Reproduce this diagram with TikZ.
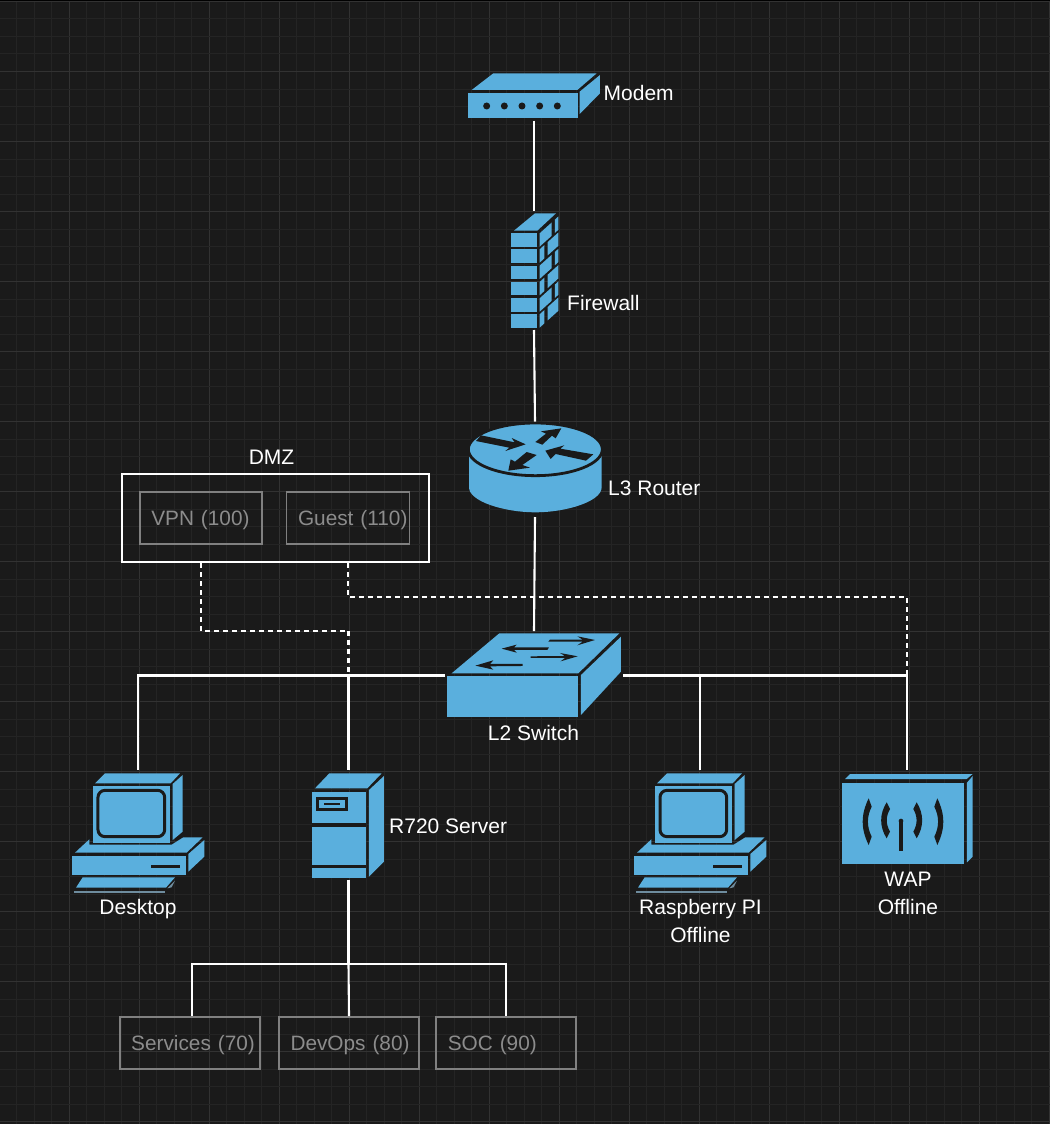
\documentclass[tikz,border=0pt]{standalone}
\usepackage{xcolor}
\usepackage{fontspec}
\setmainfont{Liberation Sans}
\usepackage{tikz}
\usetikzlibrary{positioning}
\definecolor{Fondo}     {RGB}{26, 26, 26}
\definecolor{RejillaA}  {RGB}{36, 36, 36}
\definecolor{RejillaB}  {RGB}{50, 50, 50}
\definecolor{Celeste}   {RGB}{90, 175, 221}
\definecolor{CelesteOsc}{RGB}{110,140,158}
\definecolor{GrisBorde} {RGB}{128,128,128}
\definecolor{GrisTexto} {RGB}{140,140,140}
\definecolor{BlancoLine}{RGB}{255,255,255}
\tikzset{
  iconbox/.style={inner sep=0pt,outer sep=0pt,minimum width=#1},
  iconbox/.default=50pt,
  face/.style={fill=Celeste},
  ink/.style={fill=Fondo},
  tag/.style={text=white,inner sep=0pt,text height=15pt,text depth=0pt,align=center},
  vlanbox/.style={draw=GrisBorde,line width=1.8pt,text=GrisTexto,font=\fontsize{20.8}{28}\selectfont,inner xsep=11.5pt,inner ysep=0pt,minimum height=52pt,text height=15pt,text depth=0pt,text width=#1-23pt,align=left,minimum width=#1},
  cable/.style={draw=BlancoLine,line width=2.1pt},
  vlancable/.style={draw=BlancoLine,line width=2.1pt,dash pattern=on 5pt off 4pt},
  computer/.pic={
    \begin{scope}[x=0.3333pt,y=-0.3333pt]
      \fill[face] (105,70) -- (135,40) -- (360,40) -- (332,70) -- cycle;
      \fill[face] (98,78) rectangle (330,248);
      \fill[face] (338,72) -- (368,45) -- (368,215) -- (338,240) -- cycle;
      \draw[draw=Fondo,line width=3pt,rounded corners=7pt] (114,91) rectangle (314,230);
      \fill[face] (45,278) -- (88,238) -- (88,254) -- (335,254) -- (370,232) -- (428,232) -- (380,278) -- cycle;
      \fill[face] (35,288) rectangle (377,345);
      \fill[face] (385,282) -- (433,240) -- (433,290) -- (385,335) -- cycle;
      \fill[ink] (272,315) rectangle (360,325);
      \fill[face] (48,383) -- (68,352) -- (345,352) -- (318,383) -- cycle;
      \fill[CelesteOsc] (43,393) rectangle (315,399);
      \fill[CelesteOsc] (322,385) -- (345,362) -- (335,382) -- cycle;
    \end{scope}
  }
}
\begin{document}
\begin{tikzpicture}[x=1pt,y=-1pt,font=\fontsize{21}{28}\selectfont]
  \useasboundingbox (0,0) rectangle (1050,1124);
  \fill[Fondo] (0,0) rectangle (1050,1124);
  \foreach \gridk in {0,...,60} {
    \pgfmathtruncatemacro{\gridm}{mod(\gridk,4)}
    \ifnum\gridm=0 \def\gridc{RejillaB}\else \def\gridc{RejillaA}\fi
    \draw[\gridc,line width=1pt] ({-1+17.5*\gridk},0) -- ({-1+17.5*\gridk},1124);
  }
  \foreach \gridk in {0,...,64} {
    \pgfmathtruncatemacro{\gridm}{mod(\gridk,4)}
    \ifnum\gridm=0 \def\gridc{RejillaB}\else \def\gridc{RejillaA}\fi
    \draw[\gridc,line width=1pt] (0,{1.5+17.5*\gridk}) -- (1050,{1.5+17.5*\gridk});
  }
  \draw[black,line width=1.2pt] (0,0.6) -- (1050,0.6);
  % equipment anchors
  \node[iconbox=134pt,minimum height=47.5pt] (modem) at (534,96.75) {};
  \node[iconbox=50pt,minimum height=119pt] (firewall) at (534,270.5) {};
  \node[iconbox=134pt,minimum height=95pt] (router) at (535,469.5) {};
  \node[iconbox=178pt,minimum height=89pt] (switch) at (534,675.5) {};
  \node[iconbox=135pt,minimum height=130pt] (desktop) at (138,835) {};
  \node[iconbox=76pt,minimum height=110pt] (server) at (348.5,825) {};
  \node[iconbox=135pt,minimum height=130pt] (raspberry) at (700,835) {};
  \node[iconbox=136pt,minimum height=100pt] (wap) at (907,820) {};
  % DMZ
  \node[draw=white,line width=2pt,minimum width=306.5pt,minimum height=88pt] (dmz) at (275.5,518) {};
  \node[text=white,inner sep=0pt,text height=15pt,text depth=0pt] (dmzlabel) at (271.5,457) {DMZ};
  \node[vlanbox=122pt] (vpn) at (200.8,518) {VPN~(100)};
  \node[vlanbox=123pt] (guest) at (348,518) {Guest~(110)};
  % VLANs
  \node[vlanbox=140pt] (services) at (189.7,1043) {Services~(70)};
  \node[vlanbox=140pt] (devops) at (349,1043) {DevOps~(80)};
  \node[vlanbox=140pt] (soc) at (506.3,1043) {SOC~(90)};
  \coordinate (vlanbus) at (348.5,964);
  \coordinate (vpnbus) at (348.5,631);
  \coordinate (guestbus) at (348,597);
  % labels
  \node[tag,anchor=west] (modemlabel) at (603.5,93) {Modem};
  \node[tag,anchor=west] (firewalllabel) at (567,303) {Firewall};
  \node[tag,anchor=west] (routerlabel) at (608,488) {L3 Router};
  \node[tag] (switchlabel) at (533.5,733) {L2 Switch};
  \node[tag] (desktoplabel) at (138,907) {Desktop};
  \node[tag,anchor=west] (serverlabel) at (389,826) {R720 Server};
  \node[tag] (raspberrylabel) at (700.5,935) {Raspberry PI\\Offline};
  \node[tag] (waplabel) at (908,907) {WAP\\Offline};
  % links
  \draw[cable] (modem.south) -- (firewall.north);
  \draw[cable] (firewall.south) -- (router.north);
  \draw[cable] (router.south) -- (switch.north);
  \draw[cable] (switch.west) -| (desktop.north);
  \draw[cable] (switch.west) -| (server.north);
  \draw[cable] (switch.east) -| (raspberry.north);
  \draw[cable] (switch.east) -| (wap.north);
  \draw[cable,line width=3pt] (server.south) -- (vlanbus);
  \draw[cable] (vlanbus) -| ([xshift=2.5pt]services.north);
  \draw[cable] (vlanbus) -- (devops.north);
  \draw[cable] (vlanbus) -| (soc.north);
  \draw[vlancable] (vpn |- dmz.south) |- (vpnbus) -- (server.north);
  \draw[vlancable] (guest |- dmz.south) -- (guestbus) -| (wap.north);
  % modem and firewall
  \begin{scope}[shift={(440,50)},x=0.3333pt,y=-0.3333pt]
    \fill[face] (95,120) -- (160,70) -- (470,70) -- (412,120) -- cycle;
    \fill[face] (85,128) rectangle (413,203);
    \fill[face] (419,125) -- (480,75) -- (480,130) -- (419,192) -- cycle;
    \foreach \dotx in {140,193,246,299,352} \fill[ink] (\dotx,168) circle [radius=10.5];
    \fill[face] (222,542) -- (285,490) -- (348,490) -- (292,542) -- cycle;
    \foreach \rowtop in {550,598,647,696,745,793} \fill[face] (212,\rowtop) rectangle (290,\rowtop+40);
    \foreach \rowtop/\aa/\ab/\ba/\bb in {550/299/335/345/355,598/299/313/323/355,647/299/335/345/355,696/299/313/323/355,745/299/335/345/355,793/299/313/323/355}
      \fill[face] (\aa,\rowtop-0.9*\aa+269) -- (\ab,\rowtop-0.9*\ab+269) -- (\ab,\rowtop-0.9*\ab+309) -- (\aa,\rowtop-0.9*\aa+309) -- cycle
        (\ba,\rowtop-0.9*\ba+269) -- (\bb,\rowtop-0.9*\bb+269) -- (\bb,\rowtop-0.9*\bb+309) -- (\ba,\rowtop-0.9*\ba+309) -- cycle;
  \end{scope}
  % router and switch
  \begin{scope}[shift={(440,410)},x=0.3333pt,y=-0.3333pt]
    \fill[face] (87,120) -- (87,232) .. controls (87,275) and (195,307) .. (286,307) .. controls (377,307) and (485,275) .. (485,232) -- (485,120) -- cycle;
    \draw[draw=Fondo,fill=Celeste,line width=2.8pt] (286,118) ellipse [x radius=201,y radius=79];
    \fill[ink] (108,93) -- (123,76) -- (224,97) -- (215,84) -- (257,103) -- (196,123) -- (208,113) -- cycle;
    \fill[ink] (286,96) -- (318,71) -- (303,64) -- (364,55) -- (347,85) -- (336,77) -- (307,104) -- cycle;
    \fill[ink] (316,122) -- (373,106) -- (361,116) -- (460,133) -- (438,152) -- (347,132) -- (332,147) -- cycle;
    \fill[ink] (205,182) -- (212,148) -- (225,155) -- (260,126) -- (290,135) -- (247,165) -- (270,173) -- cycle;
    \fill[face] (35,790) -- (178,670) -- (538,670) -- (415,790) -- cycle;
    \fill[face] (22,798) rectangle (415,922);
    \fill[face] (423,795) -- (543,680) -- (543,785) -- (423,915) -- cycle;
    \fill[ink] (465,690) -- (412,706) -- (428,695) -- (325,695) -- (330,689) -- (428,689) -- (412,679) -- cycle;
    \fill[ink] (185,716) -- (230,704) -- (222,712) -- (327,712) -- (322,720) -- (222,720) -- (230,728) -- cycle;
    \fill[ink] (413,739) -- (362,754) -- (375,744) -- (272,744) -- (272,739) -- (375,738) -- (360,729) -- cycle;
    \fill[ink] (106,767) -- (160,751) -- (150,762) -- (248,762) -- (248,768) -- (150,769) -- (160,779) -- cycle;
  \end{scope}
  % desktop and raspberry
  \pic (desktopicon) at (60,760) {computer};
  \pic (raspberryicon) at (622,760) {computer};
  % server
  \begin{scope}[shift={(60,760)},x=0.3333pt,y=-0.3333pt]
    \fill[face] (765,85) -- (808,40) -- (965,40) -- (922,85) -- cycle;
    \fill[face] (757,95) rectangle (918,355);
    \fill[face] (927,90) -- (972,48) -- (972,305) -- (927,350) -- cycle;
    \fill[ink] (757,190) rectangle (918,200);
    \fill[ink] (757,315) rectangle (918,325);
    \fill[ink] (768,110) rectangle (865,153);
    \fill[face] (778,120) rectangle (855,143);
    \fill[ink] (793,128) rectangle (840,136);
  \end{scope}
  % wap
  \begin{scope}[shift={(820,760)},x=0.3333pt,y=-0.3333pt]
    \fill[face] (75,57) -- (90,42) -- (458,42) -- (440,57) -- cycle;
    \fill[face] (65,68) rectangle (432,313);
    \fill[face] (441,68) -- (458,48) -- (458,290) -- (441,307) -- cycle;
    \fill[ink] (238,185) rectangle (248,273);
    \fill[ink] (243,183) circle [radius=7];
    \fill[ink] (146,115) -- (155,140) .. controls (140,170) and (140,200) .. (155,230) -- (146,255) .. controls (122,205) and (122,165) .. (146,115) -- cycle;
    \fill[ink] (200,127) -- (210,147) .. controls (197,170) and (197,192) .. (210,215) -- (200,235) .. controls (178,200) and (178,162) .. (200,127) -- cycle;
    \fill[ink] (290,127) -- (280,147) .. controls (293,170) and (293,192) .. (280,215) -- (290,235) .. controls (312,200) and (312,162) .. (290,127) -- cycle;
    \fill[ink] (352,115) -- (343,140) .. controls (358,170) and (358,200) .. (343,230) -- (352,255) .. controls (376,205) and (376,165) .. (352,115) -- cycle;
  \end{scope}
\end{tikzpicture}
\end{document}
